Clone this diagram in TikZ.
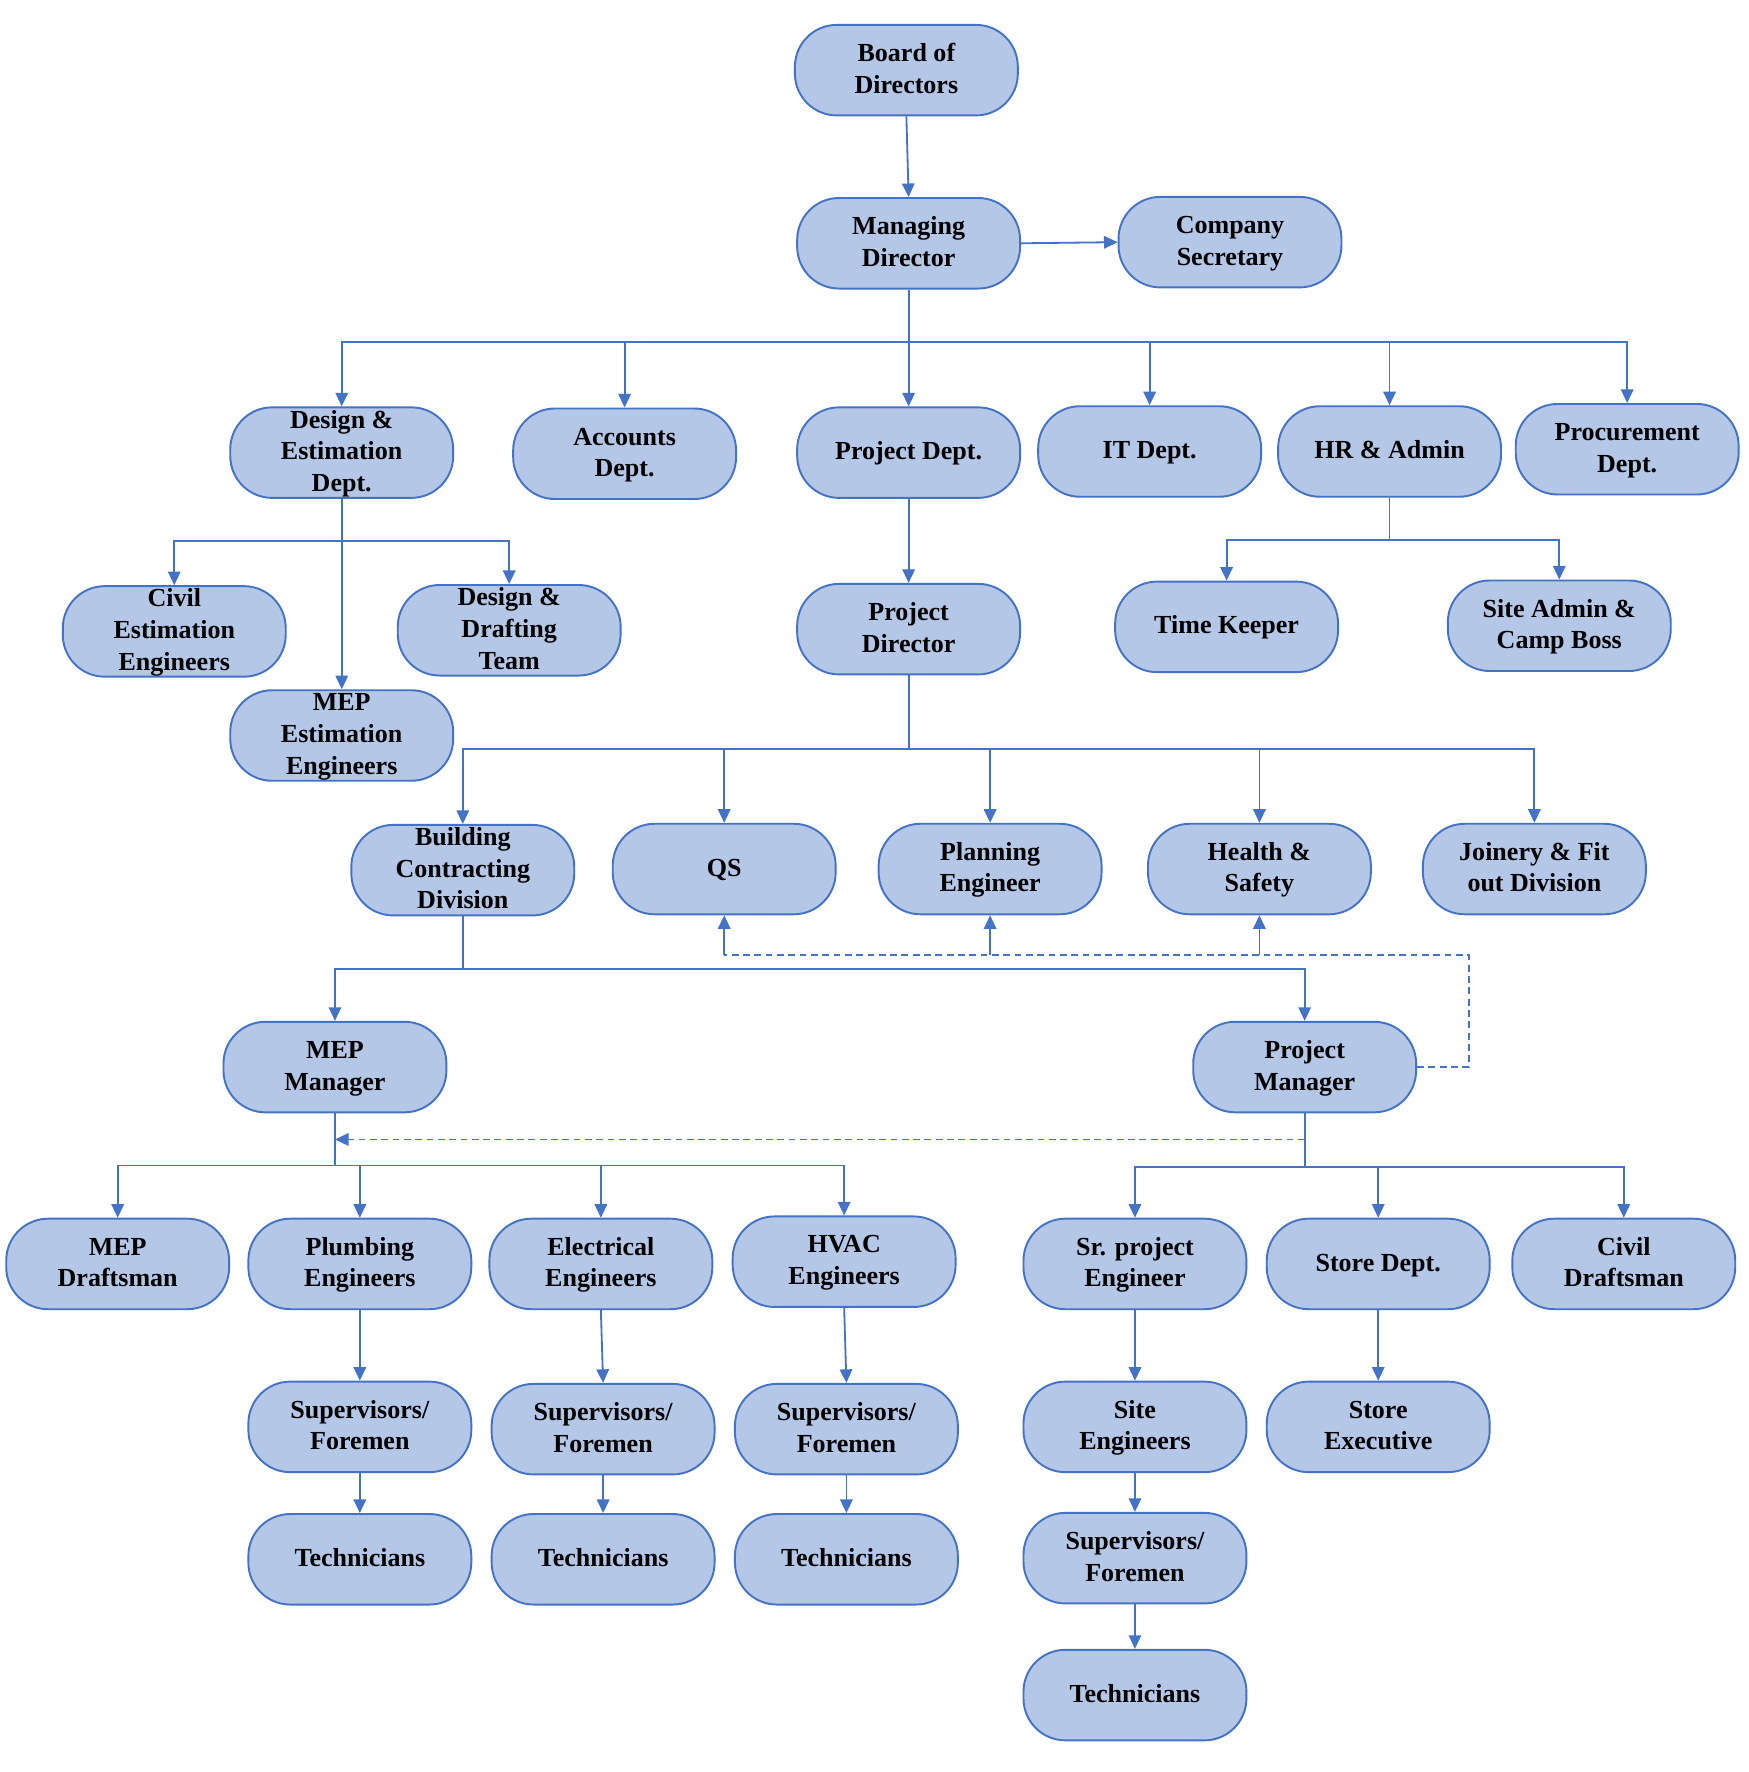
\documentclass[tikz,border=0pt]{standalone}
\usepackage{fontspec}
\setmainfont{Liberation Serif}
\usetikzlibrary{arrows.meta,calc}
\definecolor{nodefill}{HTML}{B4C7E7}
\definecolor{nodeline}{HTML}{4472C4}
\newcommand\nodetext[1]{\smash{\raisebox{-0.3em}{\begin{tabular}[c]{@{}c@{}}#1\end{tabular}}}}
\newcommand\orgnode[4]{\node[box] (#1) at (#2,#3) {\nodetext{#4}};}
\begin{document}
\begin{tikzpicture}[x=1pt,y=-1pt,
  box/.style={draw=nodeline, line width=1.7pt, fill=nodefill, rounded corners=37pt,
    minimum width=197pt, minimum height=80pt, inner sep=0pt,
    font=\fontsize{23}{28}\selectfont\bfseries},
  conn/.style={draw=nodeline, line width=1.6pt, -{Triangle[length=12pt,width=11pt]}},
  plain/.style={draw=nodeline, line width=1.6pt},
  dconn/.style={draw=nodeline, line width=1.6pt, dash pattern=on 6pt off 4pt}]
\fill[white] (0,0) rectangle (1545,1566);
\useasboundingbox (0,0) rectangle (1545,1566);
% nodes
\orgnode{bod}{801}{62}{Board of\\Directors}
\orgnode{md}{803}{215}{Managing\\Director}
\orgnode{cs}{1087}{214}{Company\\Secretary}
\orgnode{des}{302}{400}{Design \&\\Estimation\\Dept.}
\orgnode{acc}{552}{401}{Accounts\\Dept.}
\orgnode{pd}{803}{400}{Project Dept.}
\orgnode{it}{1016}{399}{IT Dept.}
\orgnode{hr}{1228}{399}{HR \& Admin}
\orgnode{proc}{1438}{397}{Procurement\\Dept.}
\orgnode{civ}{154}{558}{Civil\\Estimation\\Engineers}
\orgnode{dd}{450}{557}{Design \&\\Drafting\\Team}
\orgnode{pdir}{803}{556}{Project\\Director}
\orgnode{tk}{1084}{554}{Time Keeper}
\orgnode{sa}{1378}{553}{Site Admin \&\\Camp Boss}
\orgnode{mepe}{302}{650}{MEP\\Estimation\\Engineers}
\orgnode{bcd}{409}{769}{Building\\Contracting\\Division}
\orgnode{qs}{640}{768}{QS}
\orgnode{pe}{875}{768}{Planning\\Engineer}
\orgnode{hs}{1113}{768}{Health \&\\Safety}
\orgnode{jf}{1356}{768}{Joinery \& Fit\\out Division}
\orgnode{mepm}{296}{943}{MEP\\Manager}
\orgnode{pm}{1153}{943}{Project\\Manager}
\orgnode{mepd}{104}{1117}{MEP\\Draftsman}
\orgnode{plu}{318}{1117}{Plumbing\\Engineers}
\orgnode{ele}{531}{1117}{Electrical\\Engineers}
\orgnode{hvac}{746}{1115}{HVAC\\Engineers}
\orgnode{spe}{1003}{1117}{Sr. project\\Engineer}
\orgnode{sd}{1218}{1117}{Store Dept.}
\orgnode{cd}{1435}{1117}{Civil\\Draftsman}
\orgnode{sf1}{318}{1261}{Supervisors/\\Foremen}
\orgnode{sf2}{533}{1263}{Supervisors/\\Foremen}
\orgnode{sf3}{748}{1263}{Supervisors/\\Foremen}
\orgnode{se}{1003}{1261}{Site\\Engineers}
\orgnode{sx}{1218}{1261}{Store\\Executive}
\orgnode{t1}{318}{1378}{Technicians}
\orgnode{t2}{533}{1378}{Technicians}
\orgnode{t3}{748}{1378}{Technicians}
\orgnode{sf4}{1003}{1377}{Supervisors/\\Foremen}
\orgnode{t4}{1003}{1498}{Technicians}
% bus coordinates
\coordinate (b1) at (803,302);
\coordinate (b2) at (302,478);
\coordinate (b3) at (1228,477);
\coordinate (b4) at (803,662);
\coordinate (b5) at (409,856);
\coordinate (b6) at (296,1030);
\coordinate (b7) at (1153,1031);
\coordinate (d1) at (1298,844);
\coordinate (d2) at (1153,1007);
% connectors
\draw[conn] (bod.south) -- (md.north);
\draw[conn] (md.east) -- (cs.west);
\draw[plain] (md.south) -- (b1);
\foreach \n in {des,acc,pd,it,hr,proc} \draw[conn] (b1) -| (\n.north);
\draw[conn] (des.south) -- (mepe.north);
\foreach \n in {civ,dd} \draw[conn] (b2) -| (\n.north);
\draw[plain] (hr.south) -- (b3);
\foreach \n in {tk,sa} \draw[conn] (b3) -| (\n.north);
\draw[conn] (pd.south) -- (pdir.north);
\draw[plain] (pdir.south) -- (b4);
\foreach \n in {bcd,qs,pe,hs,jf} \draw[conn] (b4) -| (\n.north);
\draw[plain] (bcd.south) -- (b5);
\foreach \n in {mepm,pm} \draw[conn] (b5) -| (\n.north);
\draw[dconn] (pm.east) -| (d1) -- (qs.south |- d1);
\foreach \n in {qs,pe,hs} \draw[conn] (\n.south |- d1) -- (\n.south);
\draw[plain] (mepm.south) -- (b6);
\foreach \n in {mepd,plu,ele,hvac} \draw[conn] (b6) -| (\n.north);
\draw[plain] (pm.south) -- (b7);
\foreach \n in {spe,sd,cd} \draw[conn] (b7) -| (\n.north);
\draw[dconn,-{Triangle[length=12pt,width=11pt]}] (d2) -- (mepm.south |- d2);
\draw[conn] (plu.south) -- (sf1.north);
\draw[conn] (ele.south) -- (sf2.north);
\draw[conn] (hvac.south) -- (sf3.north);
\draw[conn] (sf1.south) -- (t1.north);
\draw[conn] (sf2.south) -- (t2.north);
\draw[conn] (sf3.south) -- (t3.north);
\draw[conn] (spe.south) -- (se.north);
\draw[conn] (se.south) -- (sf4.north);
\draw[conn] (sf4.south) -- (t4.north);
\draw[conn] (sd.south) -- (sx.north);
\end{tikzpicture}
\end{document}
